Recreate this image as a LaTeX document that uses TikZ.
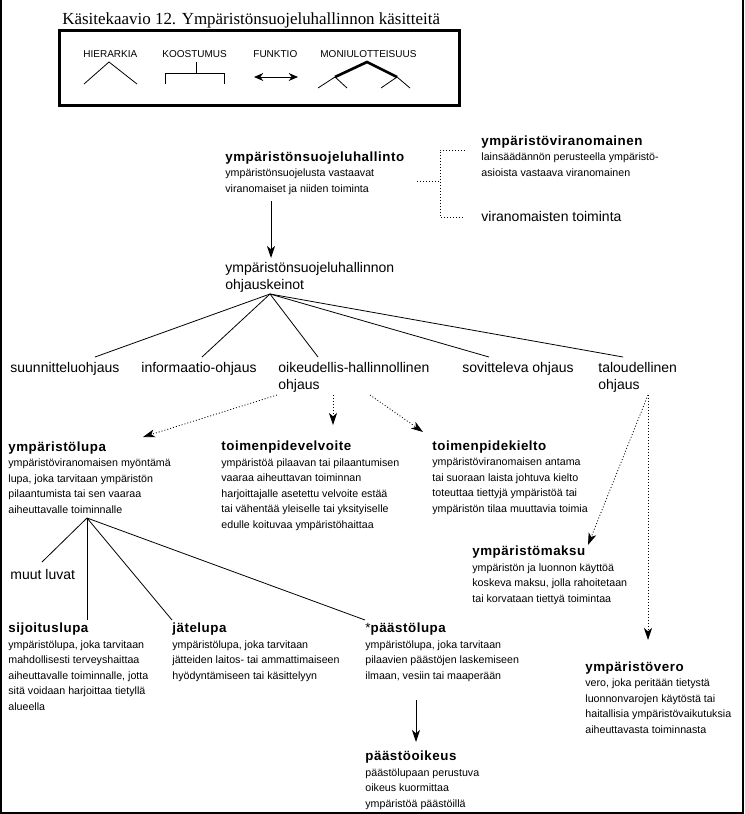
\documentclass[tikz,border=0pt]{standalone}
\usepackage{fontspec}
\setmainfont{Liberation Sans}
\newfontfamily\titlefont{Liberation Serif}
\usetikzlibrary{arrows.meta}

\newcommand{\ttl}[1]{{\fontsize{10pt}{11.6pt}\selectfont\bfseries\addfontfeature{LetterSpace=4}#1}}

\tikzset{
  desc/.style={anchor=base west, inner sep=0pt, align=left, font=\fontsize{8pt}{11.6pt}\selectfont},
  biglbl/.style={anchor=base west, inner sep=0pt, align=left, font=\fontsize{10.5pt}{12.75pt}\selectfont},
  legtxt/.style={anchor=base west, inner sep=0pt, font=\fontsize{7.5pt}{8pt}\selectfont},
  arr/.style={-{Stealth[length=9pt,width=6pt,inset=2.5pt]}},
  dotline/.style={dash pattern=on 0.75pt off 1.5pt},
}

\begin{document}
\begin{tikzpicture}[x=0.75pt, y=-0.75pt, line width=0.6pt]
    \useasboundingbox (0,0) rectangle (744,814);
    % kehys
    \draw[line width=1.5pt] (1,0) -- (1,812.5) -- (743,812.5) -- (743,0);

    % otsikko ja selite
    \node (otsikko) at (62,24) [anchor=base west, inner sep=0pt, font=\titlefont\fontsize{12.7pt}{14pt}\selectfont] {Käsitekaavio 12. Ympäristönsuojeluhallinnon käsitteitä};
    \draw[line width=2.25pt] (59,30) rectangle (459,105);
    \node (hier) at (83,57) [legtxt] {HIERARKIA};
    \node (koos) at (162,57) [legtxt] {KOOSTUMUS};
    \node (funk) at (253,57) [legtxt] {FUNKTIO};
    \node (moni) at (320,57) [legtxt] {MONIULOTTEISUUS};
    \draw (84,84) -- (109,62) -- (137,84);
    \draw (196,62) -- (196,73);
    \draw (165,84) -- (165,73) -- (224,73) -- (224,84);
    \draw[line width=0.75pt, {Stealth[length=7pt,width=6pt]}-{Stealth[length=7pt,width=6pt]}] (254,77) -- (298,77);
    \draw[line width=2pt] (335,77) -- (367,62) -- (397,77);
    \draw (318,88) -- (335,77) -- (347,88);
    \draw (381,88) -- (397,77) -- (410,88);

    % ylin taso (kohta = viimeisen rivin perusviiva)
    \node (hall) at (225,192) [desc] {\ttl{ympäristönsuojeluhallinto}\\ympäristönsuojelusta vastaavat\\viranomaiset ja niiden toiminta};
    \node (viran) at (481,176) [desc] {\ttl{ympäristöviranomainen}\\lainsäädännön perusteella ympäristö-\\asioista vastaava viranomainen};
    \node (vtoim) at (481,221) [biglbl] {viranomaisten toiminta};
    \node (keino) at (225,289) [biglbl] {ympäristönsuojeluhallinnon\\ohjauskeinot};

    % ohjauskeinot
    \node (suun) at (10,372) [biglbl] {suunnitteluohjaus};
    \node (info) at (141,372) [biglbl] {informaatio-ohjaus};
    \node (oik) at (278,389) [biglbl] {oikeudellis-hallinnollinen\\ohjaus};
    \node (sov) at (462,372) [biglbl] {sovitteleva ohjaus};
    \node (talo) at (598,389) [biglbl] {taloudellinen\\ohjaus};

    % oikeudellis-hallinnolliset
    \node (lupa) at (8,513) [desc] {\ttl{ympäristölupa}\\ympäristöviranomaisen myöntämä\\lupa, joka tarvitaan ympäristön\\pilaantumista tai sen vaaraa\\aiheuttavalle toiminnalle};
    \node (velv) at (221,528) [desc] {\ttl{toimenpidevelvoite}\\ympäristöä pilaavan tai pilaantumisen\\vaaraa aiheuttavan toiminnan\\harjoittajalle asetettu velvoite estää\\tai vähentää yleiselle tai yksityiselle\\edulle koituvaa ympäristöhaittaa};
    \node (kielto) at (432,512) [desc] {\ttl{toimenpidekielto}\\ympäristöviranomaisen antama\\tai suoraan laista johtuva kielto\\toteuttaa tiettyjä ympäristöä tai\\ympäristön tilaa muuttavia toimia};

    % taloudelliset
    \node (maksu) at (472,602) [desc] {\ttl{ympäristömaksu}\\ympäristön ja luonnon käyttöä\\koskeva maksu, jolla rahoitetaan\\tai korvataan tiettyä toimintaa};
    \node (vero) at (585,733) [desc] {\ttl{ympäristövero}\\vero, joka peritään tietystä\\luonnonvarojen käytöstä tai\\haitallisia ympäristövaikutuksia\\aiheuttavasta toiminnasta};

    % luvat
    \node (muut) at (10,579) [biglbl] {muut luvat};
    \node (sijo) at (8,710) [desc] {\ttl{sijoituslupa}\\ympäristölupa, joka tarvitaan\\mahdollisesti terveyshaittaa\\aiheuttavalle toiminnalle, jotta\\sitä voidaan harjoittaa tietyllä\\alueella};
    \node (jate) at (172,679) [desc] {\ttl{jätelupa}\\ympäristölupa, joka tarvitaan\\jätteiden laitos- tai ammattimaiseen\\hyödyntämiseen tai käsittelyyn};
    \node (paas) at (365,679) [desc] {{\fontsize{10pt}{11.6pt}\selectfont*}\ttl{päästölupa}\\ympäristölupa, joka tarvitaan\\pilaavien päästöjen laskemiseen\\ilmaan, vesiin tai maaperään};
    \node (oikeus) at (365,807) [desc] {\ttl{päästöoikeus}\\päästölupaan perustuva\\oikeus kuormittaa\\ympäristöä päästöillä};

    % liitoskohdat
    \coordinate (hallout) at (271,201);
    \coordinate (keinoin) at (271,258);
    \coordinate (hubA) at (270,294);
    \coordinate (suunin) at (95,357);
    \coordinate (infoin) at (202,357);
    \coordinate (oikin) at (318,357);
    \coordinate (sovin) at (489,357);
    \coordinate (taloin) at (623,357);
    \coordinate (hallr) at (417,181);
    \coordinate (brk) at (440,181);
    \coordinate (viranin) at (465,150);
    \coordinate (vtoimin) at (465,217);
    \coordinate (lupaout) at (277,395);
    \coordinate (lupain) at (143,437);
    \coordinate (velvout) at (333,395);
    \coordinate (velvin) at (333,425);
    \coordinate (kieltoout) at (370,395);
    \coordinate (kieltoin) at (423,432);
    \coordinate (taloout) at (648,395);
    \coordinate (maksuin) at (588,545);
    \coordinate (veroin) at (648,640);
    \coordinate (hubB) at (87,518);
    \coordinate (muutin) at (42,562);
    \coordinate (sijoin) at (87,620);
    \coordinate (jatein) at (172,620);
    \coordinate (paasin) at (365,620);
    \coordinate (paasout) at (416,700);
    \coordinate (oikeusin) at (416,742);

    % yhteydet
    \draw[arr, line width=0.75pt] (hallout) -- (keinoin);
    \foreach \k in {suunin, infoin, oikin, sovin, taloin}
        \draw (hubA) -- (\k);
    \draw[dotline] (hallr) -- (brk);
    \draw[dotline] (viranin) -- (brk |- viranin) -- (brk |- vtoimin) -- (vtoimin);
    \draw[dotline, arr] (lupaout) -- (lupain);
    \draw[dotline, arr] (velvout) -- (velvin);
    \draw[dotline, arr] (kieltoout) -- (kieltoin);
    \draw[dotline, arr] (taloout) -- (maksuin);
    \draw[dotline, arr] (taloout) -- (veroin);
    \foreach \k in {muutin, sijoin, jatein, paasin}
        \draw (hubB) -- (\k);
    \draw[arr, line width=0.75pt] (paasout) -- (oikeusin);
\end{tikzpicture}
\end{document}
